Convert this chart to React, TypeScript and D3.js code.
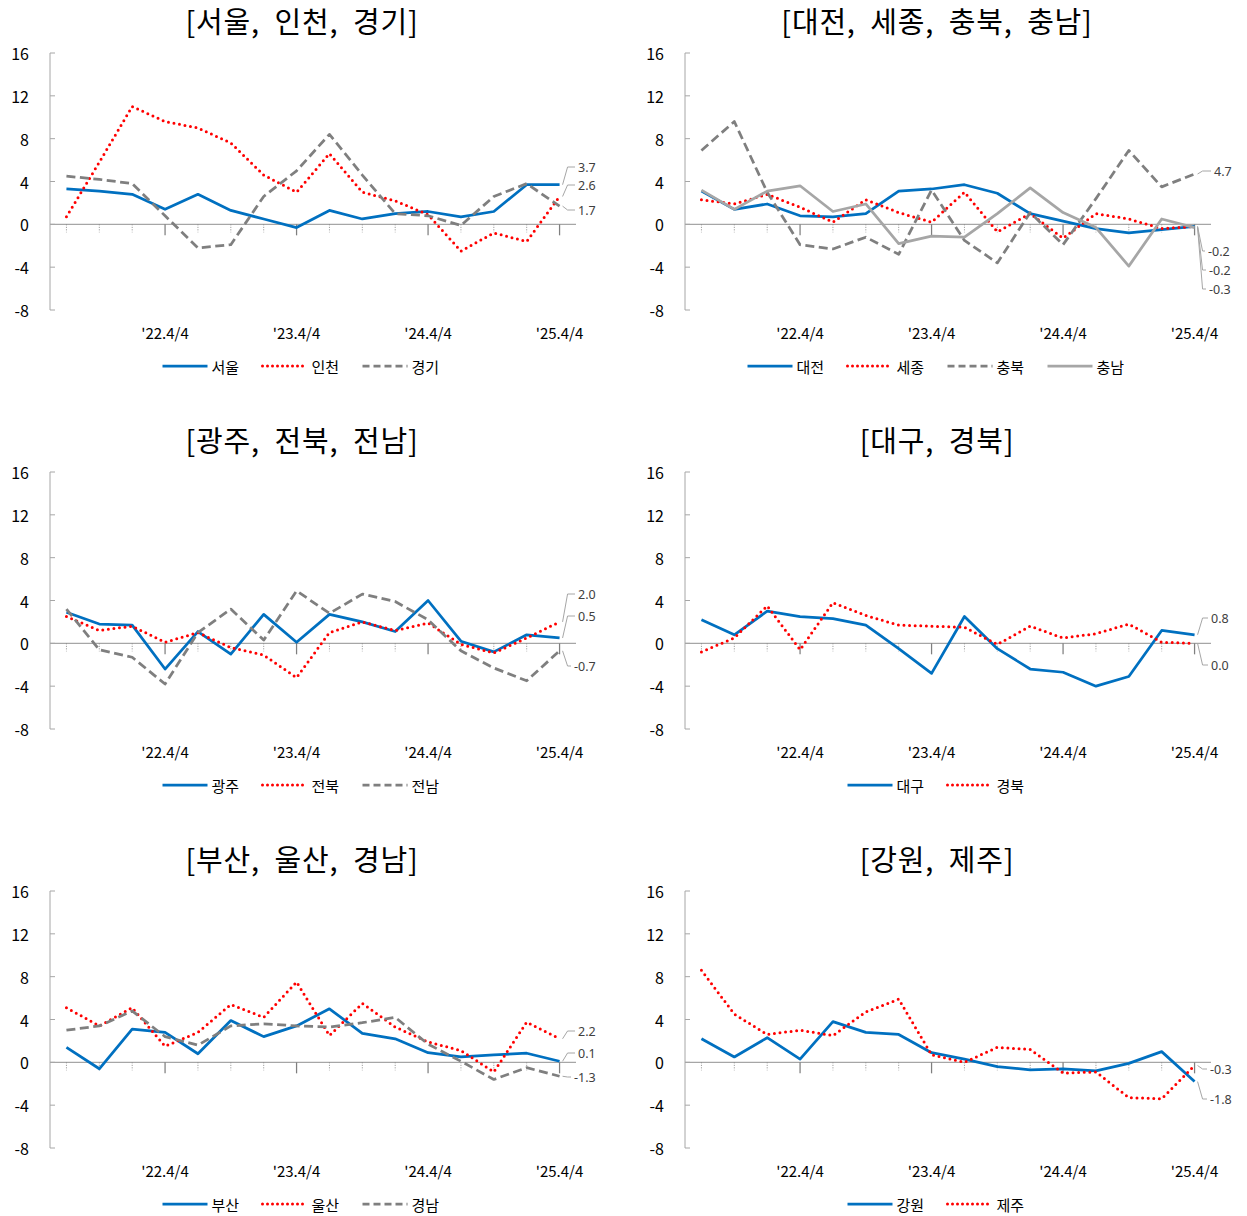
import React from 'react';
import * as d3 from 'd3';

// ---------- data ----------
const quarters = [
  "22.1/4", "22.2/4", "22.3/4", "22.4/4",
  "23.1/4", "23.2/4", "23.3/4", "23.4/4",
  "24.1/4", "24.2/4", "24.3/4", "24.4/4",
  "25.1/4", "25.2/4", "25.3/4", "25.4/4",
];
// labelled quarters on the x axis
const xTickQuarters = ["22.4/4", "23.4/4", "24.4/4", "25.4/4"];
const xTickLabels = ["'22.4/4", "'23.4/4", "'24.4/4", "'25.4/4"];
const yTicks = [-8, -4, 0, 4, 8, 12, 16];

const seoul = [3.3, 3.1, 2.8, 1.4, 2.8, 1.3, 0.5, -0.3, 1.3, 0.5, 1.0, 1.2, 0.7, 1.2, 3.7, 3.7];
const incheon = [0.7, 5.8, 11.0, 9.6, 9.0, 7.6, 4.6, 3.0, 6.6, 3.0, 2.2, 0.9, -2.5, -0.8, -1.6, 2.6];
const gyeonggi = [4.5, 4.2, 3.8, 0.8, -2.2, -1.9, 2.6, 5.0, 8.4, 4.6, 1.0, 0.8, -0.1, 2.6, 3.8, 1.7];

const daejeon = [3.1, 1.4, 1.9, 0.8, 0.7, 1.0, 3.1, 3.3, 3.7, 2.9, 1.0, 0.3, -0.4, -0.8, -0.5, -0.2];
const sejong = [2.3, 1.9, 2.8, 1.6, 0.2, 2.3, 1.1, 0.2, 3.0, -0.7, 1.0, -1.3, 1.0, 0.5, -0.4, -0.2];
const chungbuk = [6.9, 9.6, 3.0, -1.9, -2.3, -1.2, -2.8, 3.2, -1.5, -3.6, 1.1, -1.9, 2.4, 6.9, 3.5, 4.7];
const chungnam = [3.2, 1.4, 3.1, 3.6, 1.2, 1.9, -1.8, -1.1, -1.2, 1.0, 3.4, 1.1, -0.3, -3.9, 0.5, -0.3];

const gwangju = [2.9, 1.8, 1.7, -2.4, 1.1, -1.0, 2.7, 0.1, 2.7, 2.0, 1.1, 4.0, 0.2, -0.8, 0.8, 0.5];
const jeonbuk = [2.5, 1.2, 1.6, 0.1, 1.0, -0.4, -1.1, -3.2, 1.0, 2.0, 1.2, 1.9, -0.1, -0.9, 0.5, 2.0];
const jeonnam = [3.2, -0.6, -1.3, -3.8, 1.0, 3.2, 0.3, 4.9, 2.8, 4.6, 3.9, 2.2, -0.7, -2.3, -3.5, -0.7];

const daegu = [2.2, 0.8, 3.0, 2.5, 2.3, 1.7, -0.5, -2.8, 2.5, -0.5, -2.4, -2.7, -4.0, -3.1, 1.2, 0.8];
const gyeongbuk = [-0.8, 0.5, 3.5, -0.6, 3.8, 2.6, 1.7, 1.6, 1.5, -0.1, 1.6, 0.5, 0.9, 1.8, 0.1, 0.0];

const busan = [1.4, -0.6, 3.1, 2.8, 0.8, 3.9, 2.4, 3.4, 5.0, 2.7, 2.2, 0.9, 0.5, 0.7, 0.85, 0.1];
const ulsan = [5.1, 3.4, 5.1, 1.5, 2.8, 5.4, 4.2, 7.5, 2.5, 5.5, 3.3, 1.9, 1.1, -0.9, 3.75, 2.2];
const gyeongnam = [3.0, 3.4, 4.8, 2.4, 1.6, 3.4, 3.6, 3.4, 3.3, 3.7, 4.2, 1.7, 0.1, -1.6, -0.5, -1.3];

const gangwon = [2.2, 0.5, 2.3, 0.3, 3.8, 2.8, 2.6, 0.9, 0.3, -0.4, -0.7, -0.6, -0.8, -0.1, 1.0, -1.8];
const jeju = [8.6, 4.5, 2.6, 3.0, 2.5, 4.7, 5.9, 0.7, 0.0, 1.4, 1.2, -1.0, -0.9, -3.3, -3.4, -0.3];

// ---------- styles ----------
type Style = { color: string; width: number; dash?: string; cap?: string };
const BLUE: Style = { color: '#0070C0', width: 2.75 };
const RED: Style = { color: '#FF0000', width: 3, dash: '0 5.6', cap: 'round' };
const DASH: Style = { color: '#7F7F7F', width: 2.75, dash: '9 4.5' };
const LGRAY: Style = { color: '#A6A6A6', width: 2.75 };

type Series = { name: string; values: number[]; style: Style; label: string; ly: number; lx: number };
type Panel = { title: string; px: number; py: number; series: Series[] };

const panels: Panel[] = [
  {
    title: '[서울,  인천,  경기]', px: 0, py: 0,
    series: [
      { name: '서울', values: seoul, style: BLUE, label: '3.7', ly: 167, lx: 578 },
      { name: '인천', values: incheon, style: RED, label: '2.6', ly: 185, lx: 578 },
      { name: '경기', values: gyeonggi, style: DASH, label: '1.7', ly: 210, lx: 578 },
    ],
  },
  {
    title: '[대전,  세종,  충북,  충남]', px: 635, py: 0,
    series: [
      { name: '대전', values: daejeon, style: BLUE, label: '-0.2', ly: 251, lx: 573 },
      { name: '세종', values: sejong, style: RED, label: '-0.2', ly: 270, lx: 574 },
      { name: '충북', values: chungbuk, style: DASH, label: '4.7', ly: 171, lx: 579 },
      { name: '충남', values: chungnam, style: LGRAY, label: '-0.3', ly: 289, lx: 574 },
    ],
  },
  {
    title: '[광주,  전북,  전남]', px: 0, py: 419,
    series: [
      { name: '광주', values: gwangju, style: BLUE, label: '0.5', ly: 197, lx: 578 },
      { name: '전북', values: jeonbuk, style: RED, label: '2.0', ly: 175, lx: 578 },
      { name: '전남', values: jeonnam, style: DASH, label: '-0.7', ly: 247, lx: 574 },
    ],
  },
  {
    title: '[대구,  경북]', px: 635, py: 419,
    series: [
      { name: '대구', values: daegu, style: BLUE, label: '0.8', ly: 199, lx: 576 },
      { name: '경북', values: gyeongbuk, style: RED, label: '0.0', ly: 246, lx: 576 },
    ],
  },
  {
    title: '[부산,  울산,  경남]', px: 0, py: 838,
    series: [
      { name: '부산', values: busan, style: BLUE, label: '0.1', ly: 215, lx: 578 },
      { name: '울산', values: ulsan, style: RED, label: '2.2', ly: 193, lx: 578 },
      { name: '경남', values: gyeongnam, style: DASH, label: '-1.3', ly: 239, lx: 574 },
    ],
  },
  {
    title: '[강원,  제주]', px: 635, py: 838,
    series: [
      { name: '강원', values: gangwon, style: BLUE, label: '-1.8', ly: 261, lx: 575 },
      { name: '제주', values: jeju, style: RED, label: '-0.3', ly: 231, lx: 575 },
    ],
  },
];

const FONT = "'Noto Sans CJK KR', 'Noto Sans', sans-serif";
const AXIS = '#A6A6A6';

function ChartPanel({ p }: { p: Panel }) {
  const x = d3.scalePoint<string>().domain(quarters).range([50, 576]).padding(0.5);
  const y = d3.scaleLinear().domain([-8, 16]).range([310, 53]);
  const line = d3.line<number>().x((_, i) => x(quarters[i]) as number).y((d) => y(d));
  const lastX = x(quarters[quarters.length - 1]) as number;
  const n = p.series.length;
  const itemStep = 100;
  const itemW = 79;
  const legendStart = 302 - ((n - 1) * itemStep + itemW) / 2;

  return (
    <g transform={`translate(${p.px},${p.py})`}>
      <text x={302} y={20} textAnchor="middle" dominantBaseline="central" fontSize={29} letterSpacing={0.8}
        fontFamily={FONT} fill="#000" style={{ whiteSpace: 'pre' }}>
        {p.title}
      </text>
      {/* y axis */}
      <line x1={50} x2={50} y1={y(16)} y2={y(-8)} stroke={AXIS} strokeWidth={1} />
      {yTicks.map((t) => (
        <g key={t}>
          <line x1={50} x2={55} y1={y(t)} y2={y(t)} stroke={AXIS} strokeWidth={1} />
          <text x={29} y={y(t)} textAnchor="end" dominantBaseline="central" fontSize={16} fontFamily={FONT} fill="#000">
            {t}
          </text>
        </g>
      ))}
      {/* zero line and ticks */}
      <line x1={50} x2={576} y1={y(0)} y2={y(0)} stroke={AXIS} strokeWidth={1.25} />
      {quarters.map((q) => {
        const major = xTickQuarters.includes(q);
        const xx = x(q) as number;
        return major ? (
          <line key={q} x1={xx} x2={xx} y1={y(0)} y2={y(0) + 11} stroke="#7F7F7F" strokeWidth={1.25} />
        ) : (
          <line key={q} x1={xx} x2={xx} y1={y(0)} y2={y(0) + 8} stroke="#8C8C8C" strokeWidth={1} strokeDasharray="1 1.5" />
        );
      })}
      {xTickQuarters.map((q, i) => (
        <text key={q} x={x(q) as number} y={332} textAnchor="middle" dominantBaseline="central" fontSize={15} fontFamily={FONT} fill="#000">
          {xTickLabels[i]}
        </text>
      ))}
      {/* series */}
      {p.series.map((s) => (
        <path
          key={s.name}
          d={line(s.values) as string}
          fill="none"
          stroke={s.style.color}
          strokeWidth={s.style.width}
          strokeDasharray={s.style.dash}
          strokeLinecap={(s.style.cap as any) || 'butt'}
          strokeLinejoin="round"
        />
      ))}
      {/* end labels with leader lines */}
      {p.series.map((s) => {
        const yEnd = y(s.values[s.values.length - 1]);
        const d = `M${lastX + 3},${yEnd} L${lastX + 8},${s.ly} L${s.lx - 3},${s.ly}`;
        return (
          <g key={s.name + 'lbl'}>
            <path d={d} fill="none" stroke={AXIS} strokeWidth={1} />
            <text x={s.lx} y={s.ly} dominantBaseline="central" fontSize={12.5} fontFamily="'Noto Sans', sans-serif" fill="#404040">
              {s.label}
            </text>
          </g>
        );
      })}
      {/* legend */}
      {p.series.map((s, i) => {
        const lx = legendStart + i * itemStep;
        return (
          <g key={s.name + 'lg'}>
            <line
              x1={lx}
              x2={lx + 45}
              y1={366}
              y2={366}
              stroke={s.style.color}
              strokeWidth={s.style.width}
              strokeDasharray={s.style.dash === '9 4.5' ? '7 4' : s.style.dash ? '0 5' : undefined}
              strokeLinecap={(s.style.cap as any) || 'butt'}
            />
            <text x={lx + 49} y={366} dominantBaseline="central" fontSize={15} fontFamily={FONT} fill="#000">
              {s.name}
            </text>
          </g>
        );
      })}
    </g>
  );
}

export default function App() {
  return (
    <div>
      <style>{`body{margin:0;background:#fff}`}</style>
      <svg width={1247} height={1216} style={{ display: 'block' }}>
        <rect width={1247} height={1216} fill="#fff" />
        {panels.map((p) => (
          <ChartPanel key={p.title} p={p} />
        ))}
      </svg>
    </div>
  );
}
